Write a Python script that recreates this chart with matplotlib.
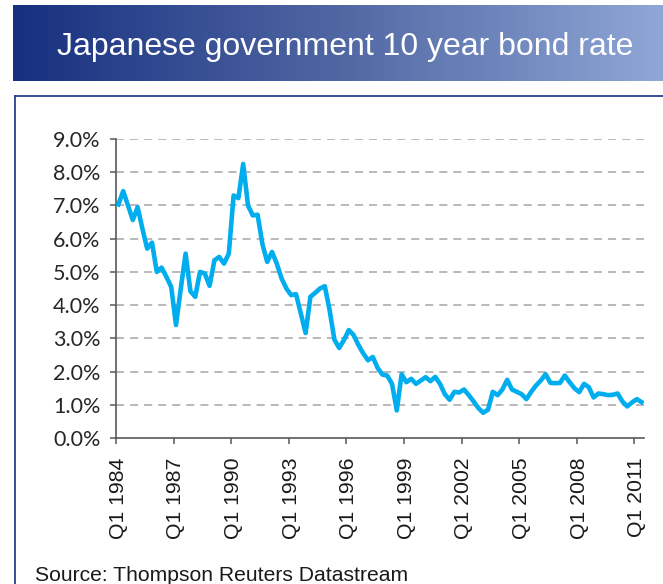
import numpy as np
import matplotlib
matplotlib.use("Agg")
import matplotlib.pyplot as plt
from matplotlib.colors import LinearSegmentedColormap
from matplotlib.lines import Line2D

# Quarterly 10-year JGB yield (%), Q1 1984 .. Q2 2011
yields = [
    7.03, 7.43, 7.00, 6.56, 6.95, 6.30, 5.70, 5.88, 5.00, 5.13,
    4.85, 4.55, 3.40, 4.50, 5.55, 4.42, 4.25, 5.00, 4.95, 4.58,
    5.35, 5.45, 5.25, 5.55, 7.30, 7.22, 8.25, 7.00, 6.70, 6.72,
    5.84, 5.30, 5.60, 5.25, 4.80, 4.50, 4.30, 4.33, 3.75, 3.16,
    4.25, 4.37, 4.50, 4.57, 3.85, 2.96, 2.71, 2.95, 3.25, 3.10,
    2.80, 2.55, 2.34, 2.44, 2.11, 1.91, 1.88, 1.63, 0.83, 1.92,
    1.68, 1.78, 1.63, 1.73, 1.83, 1.71, 1.84, 1.63, 1.32, 1.15,
    1.39, 1.37, 1.46, 1.29, 1.10, 0.90, 0.76, 0.85, 1.39, 1.29,
    1.46, 1.75, 1.46, 1.39, 1.32, 1.17, 1.39, 1.58, 1.73, 1.92,
    1.66, 1.65, 1.66, 1.88, 1.68, 1.50, 1.38, 1.63, 1.53, 1.22,
    1.34, 1.32, 1.29, 1.30, 1.34, 1.10, 0.95, 1.07, 1.17, 1.08,
]
start_year = 1984
quarters = ["Q%d %d" % (i % 4 + 1, start_year + i // 4) for i in range(len(yields))]
label_years = [1984, 1987, 1990, 1993, 1996, 1999, 2002, 2005, 2008, 2011]
y_ticks = [0, 1, 2, 3, 4, 5, 6, 7, 8, 9]

title = "Japanese government 10 year bond rate"
source = "Source: Thompson Reuters Datastream"

W, H = 663, 584
fig = plt.figure(figsize=(W / 100, H / 100), dpi=100)
fig.patch.set_facecolor("white")

# header bar with left-to-right blue gradient
bar = fig.add_axes([13 / W, 1 - 81 / H, (W - 13) / W, 76 / H])
grad = LinearSegmentedColormap.from_list("hdr", ["#17307f", "#5067a3", "#8fa6d6"])
bar.imshow(np.linspace(0, 1, 256)[None, :], cmap=grad, aspect="auto", extent=[0, 1, 0, 1])
bar.set_axis_off()
fig.text(345 / W, 1 - 55 / H, title, color="white", fontsize=23,
         family="Liberation Sans", ha="center", va="baseline")

# thin frame around the chart area (only top and left are visible)
frame_kw = dict(color="#2a3f8f", lw=1.3, transform=fig.transFigure)
fig.add_artist(Line2D([15 / W, 15 / W], [1 - 96 / H, 0], **frame_kw))
fig.add_artist(Line2D([15 / W, 1], [1 - 96 / H, 1 - 96 / H], **frame_kw))

ax = fig.add_axes([116 / W, 1 - 438 / H, (644 - 116) / W, (438 - 139) / H])
x = np.arange(len(yields))
ax.plot(x, yields, color="#00aeef", lw=3.3, solid_joinstyle="round", zorder=3)

ax.set_xlim(-0.5, len(yields) - 0.5)
ax.set_ylim(0, 9)

for v in y_ticks[1:]:
    ax.axhline(v, color="#a6a6a6", lw=1.1, ls=(0, (5.3, 3.9)), zorder=1)

ax.set_yticks(y_ticks)
ax.set_yticklabels(["%.1f%%" % v for v in y_ticks], family="Lato", fontsize=15.5,
                   color="#262626")
ax.tick_params(axis="y", direction="out", length=4.5, width=1.1, color="#595959", pad=6.5)

# tick marks sit between categories, labels are centred on the category
pos = [quarters.index("Q1 %d" % y) for y in label_years]
ax.set_xticks([p - 0.5 for p in pos])
ax.set_xticklabels([])
ax.set_xticks(pos, minor=True)
ax.set_xticklabels(["Q1 %d" % y for y in label_years], minor=True, rotation=90,
                   family="Liberation Sans", fontsize=15.3, color="#1a1a1a")
ax.tick_params(axis="x", which="major", direction="out", length=4.5, width=1.1,
               color="#595959")
ax.tick_params(axis="x", which="minor", length=0, pad=14)

for s in ["top", "right"]:
    ax.spines[s].set_visible(False)
for s in ["left", "bottom"]:
    ax.spines[s].set_color("#595959")
    ax.spines[s].set_linewidth(1.2)

fig.text(35 / W, 1 - 581 / H, source, fontsize=15.2, family="Liberation Sans",
         color="#1a1a1a", ha="left", va="baseline")

fig.savefig("out.png", dpi=100)
